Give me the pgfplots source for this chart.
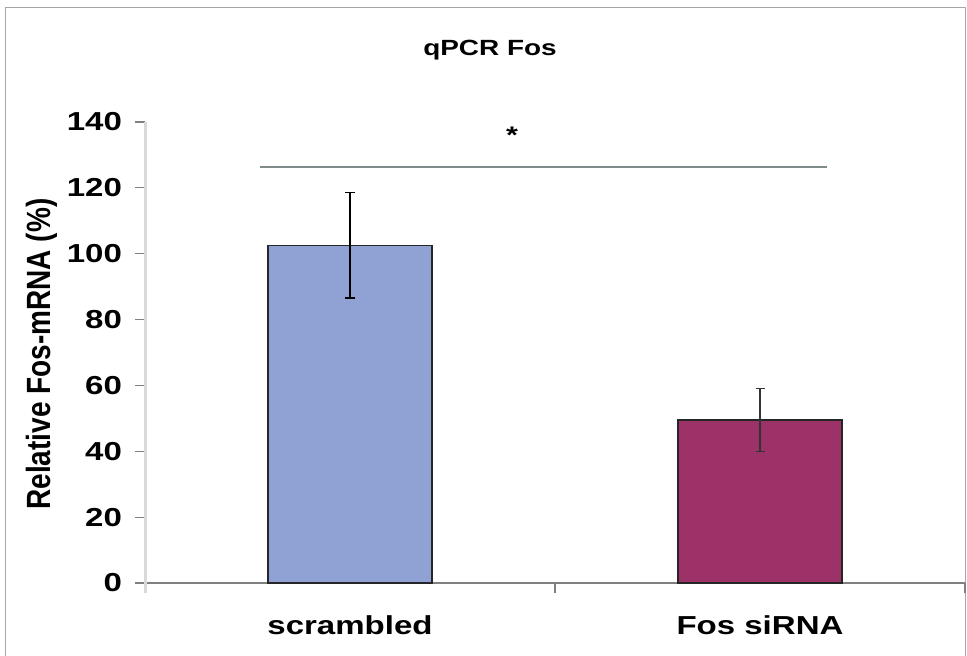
\documentclass[border=0pt]{standalone}
\usepackage{graphicx}
\usepackage{pgfplots}
\pgfplotsset{compat=1.18}
\usepackage{fontspec}
\setmainfont{Liberation Sans}[FakeStretch=1.27]
\newfontfamily\ylfont{Liberation Sans}
\definecolor{barA}{HTML}{8FA2D3}
\definecolor{barB}{HTML}{9C3267}
\definecolor{sigline}{HTML}{7F8A8A}
\begin{document}
\begin{tikzpicture}
\useasboundingbox (0,0) rectangle (967pt,656pt);
\fill[white] (0,0) rectangle (967pt,656pt);
\draw[black!35, line width=1pt] (5pt,-5pt) rectangle (965.5pt,648pt);
\begin{axis}[
  at={(145pt,73pt)}, anchor=south west,
  scale only axis, width=820pt, height=461pt,
  xmin=-0.5, xmax=1.5, ymin=0, ymax=140,
  axis x line*=bottom, axis y line*=left,
  x axis line style={draw=gray, line width=1.5pt, -},
  y axis line style={draw=black!15, line width=3pt, -, shorten <=-10pt},
  tick align=outside,
  major tick length=9.5pt,
  minor tick length=10pt,
  xtick={0,1}, xticklabels={scrambled,Fos siRNA},
  minor xtick={0.5,1.5},
  major x tick style={draw=none},
  minor x tick style={draw=gray, line width=1.5pt},
  xticklabel style={yshift=-20pt},
  ytick={0,20,...,140},
  y tick style={draw=gray, line width=1.2pt},
  yticklabel style={xshift=-10pt},
  ticklabel style={font=\fontsize{26}{30}\selectfont\bfseries},
  /pgf/number format/assume math mode=true,
  clip=false,
]
\addplot[ybar, bar width=0.4, fill=barA, draw=black!85, line width=1.2pt,
  error bars/.cd, y dir=both, y explicit,
  error bar style={line width=1.5pt, black},
  error mark options={rotate=90, mark size=5pt, line width=1.5pt, black}]
  coordinates {(0,102.6) +- (0,16.0)};
\addplot[ybar, bar width=0.4, fill=barB, draw=black!85, line width=1.2pt,
  error bars/.cd, y dir=both, y explicit,
  error bar style={line width=1.5pt, black!80},
  error mark options={rotate=90, mark size=4.5pt, line width=1.5pt, black!80}]
  coordinates {(1,49.5) +- (0,9.6)};
\addplot[sigline, line width=2pt, no marks] coordinates {(-0.22,126.4) (1.163,126.4)};
\node[font=\fontsize{24}{28}\selectfont\bfseries] at (axis cs:0.395,136) {*};
\end{axis}
\node[anchor=base, font=\fontsize{22}{26}\selectfont\bfseries] at (490pt,600pt) {qPCR Fos};
\node[rotate=90, font=\ylfont\fontsize{28}{32}\selectfont\bfseries] at (42pt,302pt) {\scalebox{1}[1.2]{Relative Fos-mRNA (\%)}};
\end{tikzpicture}
\end{document}
